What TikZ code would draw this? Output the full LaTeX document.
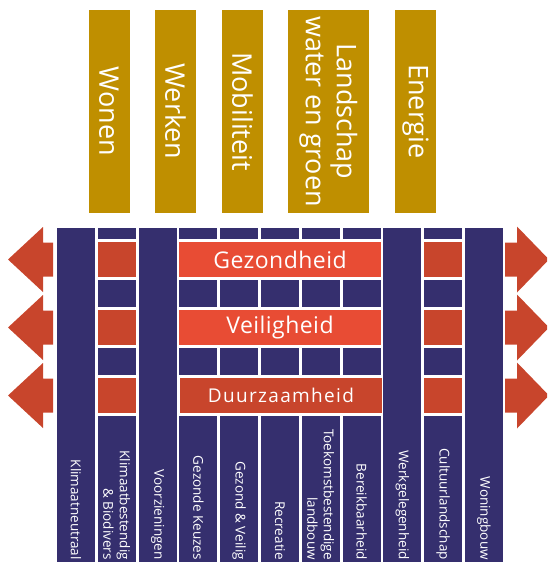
\documentclass[tikz,border=0pt]{standalone}
\usepackage{fontspec}
\setmainfont{Open Sans}

\definecolor{goldbar}{HTML}{BF8F00}
\definecolor{navy}{HTML}{352F6E}
\definecolor{brightred}{HTML}{E84C34}
\definecolor{rustred}{HTML}{C8452C}

\begin{document}
\begin{tikzpicture}[x=1pt, y=-1pt,
  pillar/.style={rotate=-90, fill=goldbar, text=white, inner sep=0pt,
    minimum width=203, minimum height=41, align=center,
    font=\fontsize{27}{31}\selectfont},
  band/.style={text=white, inner sep=0pt, minimum width=201.2, minimum height=35,
    font=\fontsize{23}{27}\selectfont\addfontfeatures{LetterSpace=2}},
  theme/.style={rotate=-90, anchor=east, text=white, inner sep=0pt, align=right,
    font=\fontsize{13.5}{16.5}\selectfont}]

\useasboundingbox (0,0) rectangle (547,562);
\clip (0,0) rectangle (547,562);

%------------------ TOP PILLARS ------------------%
\node[pillar] (wonen)    at (109,111.5)   {Wonen};
\node[pillar] (werken)   at (175.5,111.5) {Werken};
\node[pillar] (mobiel)   at (242.5,111.5) {Mobiliteit};
\node[pillar, minimum height=81] (landschap) at (328.5,111.5) {Landschap\\water en groen};
\node[pillar] (energie)  at (415.5,111.5) {Energie};

%------------------ WALL ------------------%
% full columns
\foreach \c in {1,3,9,11}
  \fill[navy] ({57+(\c-1)*40.8},228) rectangle ++(38,340);

% bricks
\foreach \c in {2,4,5,6,7,8,10}
  \foreach \top/\h in {228/11, 280/27, 348/27, 416/150}
    \fill[navy] ({57+(\c-1)*40.8},\top) rectangle ++(38,\h);

% red squares
\foreach \c in {2,10}
  \foreach \top in {242,310,378}
    \fill[rustred] ({57+(\c-1)*40.8},\top) rectangle ++(38,35);

% bands
\node[band, fill=brightred] (gezond)  at (280,259.5) {Gezondheid};
\node[band, fill=brightred] (veilig)  at (280,327.5) {Veiligheid};
\node[band, fill=rustred, font=\fontsize{19}{23}\selectfont\addfontfeatures{LetterSpace=7}] (duurzaam) at (281,395.5) {Duurzaamheid};

%------------------ ARROWS ------------------%
\foreach \m in {259.5,327.5,395.5}{
  \fill[rustred] (53,\m-17) -- (43,\m-17) -- (43,\m-32.5) -- (8,\m)
    -- (43,\m+32.5) -- (43,\m+17) -- (53,\m+17) -- cycle;
  \fill[rustred] (505,\m-17) -- (517,\m-17) -- (517,\m-33) -- (549,\m)
    -- (517,\m+33) -- (517,\m+17) -- (505,\m+17) -- cycle;
}

%------------------ THEMES ------------------%
\node[theme] (klimneutr) at (76,560)    {Klimaatneutraal};
\node[theme] (klimbest)  at (116.8,560) {Klimaatbestendig\\\& Biodivers};
\node[theme] (voorz)     at (157.6,560) {Voorzieningen};
\node[theme] (keuzes)    at (198.4,560) {Gezonde Keuzes};
\node[theme] (gezveilig) at (239.2,560) {Gezond \& Veilig};
\node[theme] (recreatie) at (280,560)   {Recreatie};
\node[theme] (landbouw)  at (320.8,560) {Toekomstbestendige\\landbouw};
\node[theme] (bereik)    at (361.6,560) {Bereikbaarheid};
\node[theme] (werkgel)   at (402.4,560) {Werkgelegenheid};
\node[theme] (cultuur)   at (443.2,560) {Cultuurlandschap};
\node[theme] (woning)    at (484,560)   {Woningbouw};

\end{tikzpicture}
\end{document}
